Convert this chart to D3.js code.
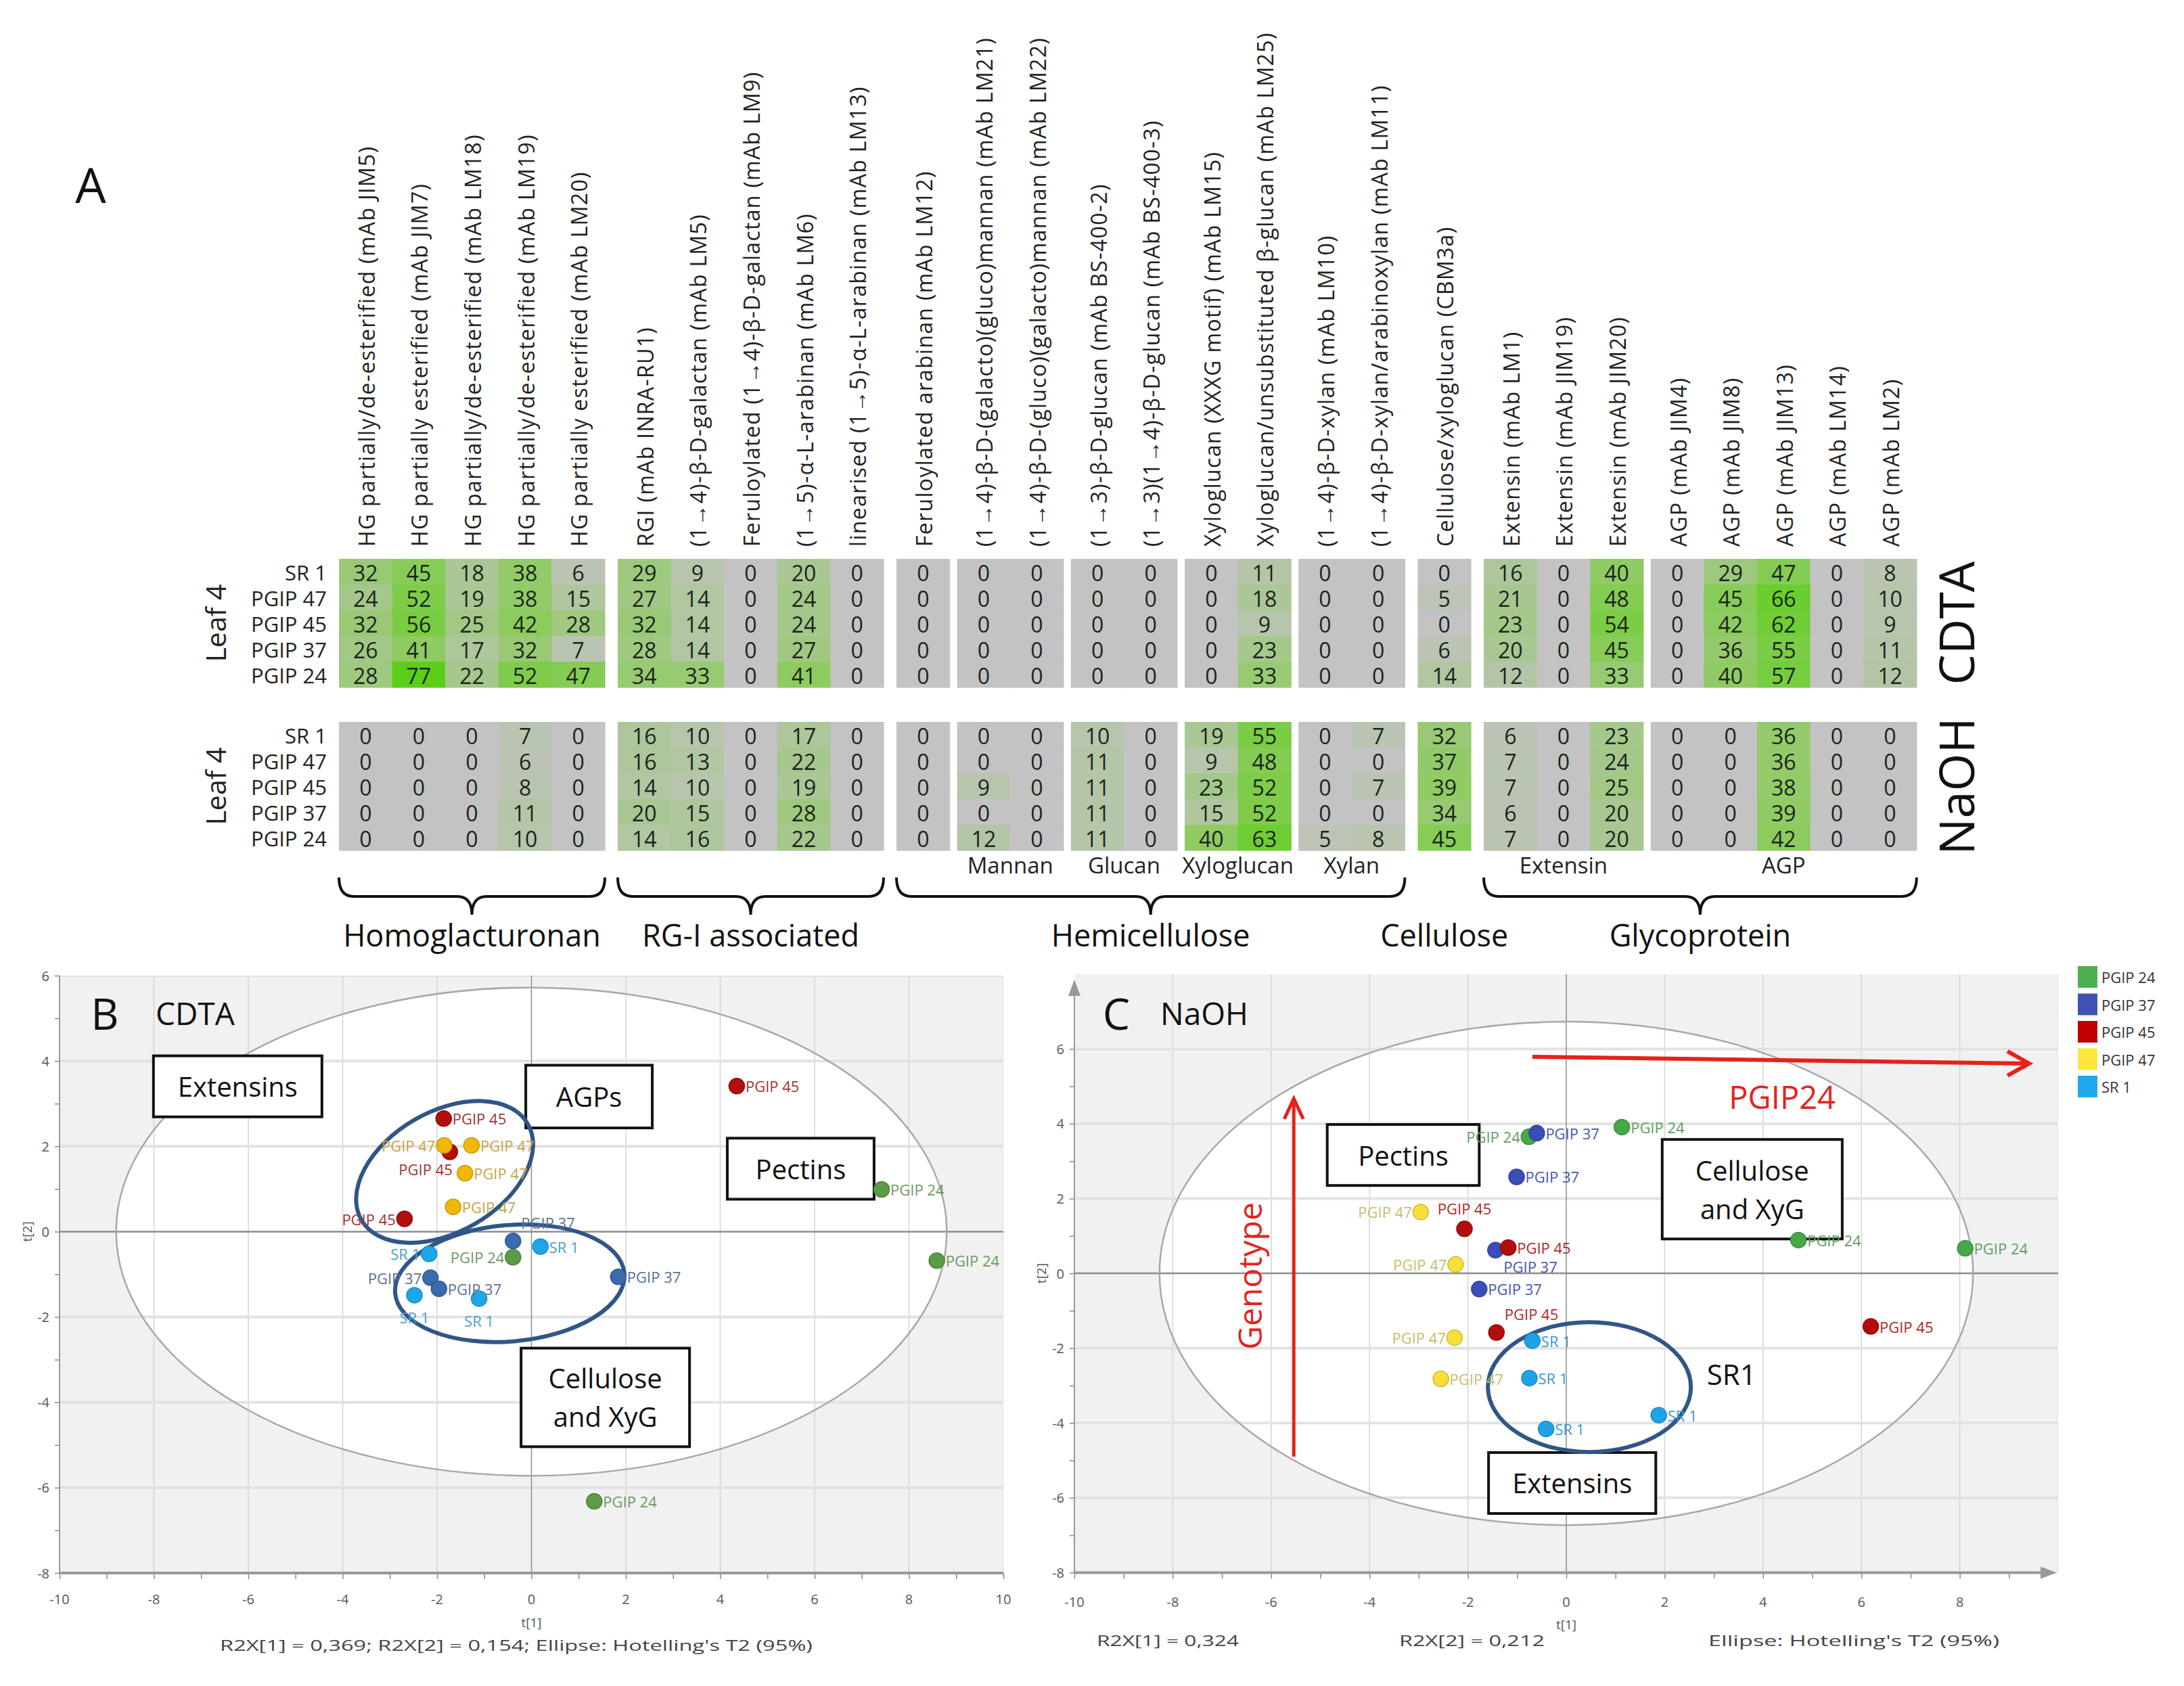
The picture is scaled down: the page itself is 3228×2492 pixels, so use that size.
<!DOCTYPE html>
<html><head><meta charset="utf-8">
<script src="https://cdn.jsdelivr.net/npm/d3@7"></script>
<style>body{margin:0;background:#fff}svg{display:block}text{font-family:'Open Sans',sans-serif}</style>
</head><body><svg id="c" width="3228" height="2492"></svg>
<script>
// ---------------- DATA ----------------
const columnLabels = [
 "HG partially/de-esterified (mAb JIM5)","HG partially esterified (mAb JIM7)","HG partially/de-esterified (mAb LM18)","HG partially/de-esterified (mAb LM19)","HG partially esterified (mAb LM20)",
 "RGI (mAb INRA-RU1)","(1\u21924)-\u03b2-D-galactan (mAb LM5)","Feruloylated (1\u21924)-\u03b2-D-galactan (mAb LM9)","(1\u21925)-\u03b1-L-arabinan (mAb LM6)","linearised (1\u21925)-\u03b1-L-arabinan (mAb LM13)",
 "Feruloylated arabinan (mAb LM12)",
 "(1\u21924)-\u03b2-D-(galacto)(gluco)mannan (mAb LM21)","(1\u21924)-\u03b2-D-(gluco)(galacto)mannan (mAb LM22)",
 "(1\u21923)-\u03b2-D-glucan (mAb BS-400-2)","(1\u21923)(1\u21924)-\u03b2-D-glucan (mAb BS-400-3)",
 "Xyloglucan (XXXG motif) (mAb LM15)","Xyloglucan/unsubstituted \u03b2-glucan (mAb LM25)",
 "(1\u21924)-\u03b2-D-xylan (mAb LM10)","(1\u21924)-\u03b2-D-xylan/arabinoxylan (mAb LM11)",
 "Cellulose/xyloglucan (CBM3a)",
 "Extensin (mAb LM1)","Extensin (mAb JIM19)","Extensin (mAb JIM20)",
 "AGP (mAb JIM4)","AGP (mAb JIM8)","AGP (mAb JIM13)","AGP (mAb LM14)","AGP (mAb LM2)"];
const groupSizes = [5,5,1,2,2,2,2,1,3,5];
const groupClass = ["Homoglacturonan","RG-I associated","Hemicellulose","Hemicellulose","Hemicellulose","Hemicellulose","Hemicellulose","Cellulose","Glycoprotein","Glycoprotein"];
const subGroupLabels = ["","","","Mannan","Glucan","Xyloglucan","Xylan","","Extensin","AGP"];
const classLabels = ["Homoglacturonan","RG-I associated","Hemicellulose","Cellulose","Glycoprotein"];
const classBrace = [true,true,true,false,true];
const genotypes = ["SR 1","PGIP 47","PGIP 45","PGIP 37","PGIP 24"];
const fractions = ["CDTA","NaOH"];
const cdtaValues = [
 [32,45,18,38,6, 29,9,0,20,0, 0, 0,0, 0,0, 0,11, 0,0, 0, 16,0,40, 0,29,47,0,8],
 [24,52,19,38,15, 27,14,0,24,0, 0, 0,0, 0,0, 0,18, 0,0, 5, 21,0,48, 0,45,66,0,10],
 [32,56,25,42,28, 32,14,0,24,0, 0, 0,0, 0,0, 0,9, 0,0, 0, 23,0,54, 0,42,62,0,9],
 [26,41,17,32,7, 28,14,0,27,0, 0, 0,0, 0,0, 0,23, 0,0, 6, 20,0,45, 0,36,55,0,11],
 [28,77,22,52,47, 34,33,0,41,0, 0, 0,0, 0,0, 0,33, 0,0, 14, 12,0,33, 0,40,57,0,12]];
const naohValues = [
 [0,0,0,7,0, 16,10,0,17,0, 0, 0,0, 10,0, 19,55, 0,7, 32, 6,0,23, 0,0,36,0,0],
 [0,0,0,6,0, 16,13,0,22,0, 0, 0,0, 11,0, 9,48, 0,0, 37, 7,0,24, 0,0,36,0,0],
 [0,0,0,8,0, 14,10,0,19,0, 0, 9,0, 11,0, 23,52, 0,7, 39, 7,0,25, 0,0,38,0,0],
 [0,0,0,11,0, 20,15,0,28,0, 0, 0,0, 11,0, 15,52, 0,0, 34, 6,0,20, 0,0,39,0,0],
 [0,0,0,10,0, 14,16,0,22,0, 0, 12,0, 11,0, 40,63, 5,8, 45, 7,0,20, 0,0,42,0,0]];

// PCA scores, CDTA (panel B)
const cdtaGeno = ["PGIP 45","PGIP 45","PGIP 45","PGIP 45","PGIP 47","PGIP 47","PGIP 47","PGIP 47","PGIP 37","PGIP 37","PGIP 37","PGIP 37","SR 1","SR 1","SR 1","SR 1","PGIP 24","PGIP 24","PGIP 24","PGIP 24"];
const cdtaT1 = [4.35,-1.86,-1.73,-2.69, -1.85,-1.27,-1.41,-1.66, -0.39,1.84,-2.14,-1.96, 0.19,-2.17,-2.48,-1.11, -0.39,7.42,8.59,1.33];
const cdtaT2 = [3.41,2.65,1.87,0.30, 2.02,2.02,1.37,0.58, -0.22,-1.06,-1.08,-1.34, -0.35,-0.52,-1.49,-1.57, -0.60,0.99,-0.68,-6.32];
const cdtaLabelSide = ["r","r","bl","l", "l","r","r","r", "ar","r","l","r", "r","l","b","b", "l","r","r","r"];
// PCA scores, NaOH (panel C)
const naohGeno = ["PGIP 24","PGIP 24","PGIP 24","PGIP 24","PGIP 37","PGIP 37","PGIP 37","PGIP 37","PGIP 45","PGIP 45","PGIP 45","PGIP 45","PGIP 47","PGIP 47","PGIP 47","PGIP 47","SR 1","SR 1","SR 1","SR 1"];
const naohT1 = [-0.76,1.13,4.72,8.11, -0.60,-1.01,-1.44,-1.77, -2.07,-1.18,-1.42,6.19, -2.96,-2.25,-2.27,-2.55, -0.69,-0.75,1.88,-0.41];
const naohT2 = [3.65,3.91,0.89,0.67, 3.75,2.58,0.62,-0.42, 1.19,0.69,-1.58,-1.42, 1.64,0.24,-1.72,-2.82, -1.80,-2.80,-3.79,-4.16];
const naohLabelSide = ["l","r","r","r", "r","r","br","r", "a","r","ar","r", "l","l","l","r", "r","r","r","r"];
const legendOrder = ["PGIP 24","PGIP 37","PGIP 45","PGIP 47","SR 1"];
const xTickValues = [-10,-8,-6,-4,-2,0,2,4,6,8,10];
const yTickValues = [-8,-6,-4,-2,0,2,4,6];

// ---------------- DRAW ----------------
const svg = d3.select("#c");
svg.append("rect").attr("width",3228).attr("height",2492).attr("fill","#fff");

// ---- Heatmap (panel A) ----
const cw = 78.6, gapMajor = 19, gapMinor = 11, x0 = 501;
const colLeft = []; const groupStart = []; const groupEnd = [];
{ let x = x0;
  groupSizes.forEach((n,g)=>{
    if(g>0) x += (groupClass[g]!==groupClass[g-1]) ? gapMajor : gapMinor;
    groupStart.push(x);
    for(let k=0;k<n;k++){ colLeft.push(x); x += cw; }
    groupEnd.push(x);
  });
}
const xCol = d3.scaleOrdinal(d3.range(columnLabels.length), colLeft);
const heat = d3.scaleLinear().domain([0,40,77]).range(["#c3c3c3","#8fcb62","#5bcf18"]);
const blocks = [
  {name:"CDTA", values:cdtaValues, y:d3.scaleBand(genotypes,[826,1016])},
  {name:"NaOH", values:naohValues, y:d3.scaleBand(genotypes,[1067,1257])}];
const A = svg.append("g");
A.append("text").attr("x",134).attr("y",272).attr("text-anchor","middle").attr("dominant-baseline","central")
 .attr("font-size",72).attr("fill","#111").text("A");
A.selectAll("text.col").data(columnLabels).join("text").attr("class","col")
 .attr("transform",(d,i)=>`translate(${xCol(i)+cw/2+1},808) rotate(-90)`)
 .attr("dominant-baseline","central").attr("font-size",32).attr("letter-spacing",1.3).attr("fill","#222").text(d=>d);
blocks.forEach(b=>{
  const g = A.append("g");
  b.values.forEach((row,ri)=>{
    g.selectAll(null).data(row).join("rect")
     .attr("x",(d,i)=>xCol(i)).attr("y",b.y(genotypes[ri])).attr("width",cw+0.6).attr("height",b.y.bandwidth()+0.6)
     .attr("fill",d=>heat(d));
    g.selectAll(null).data(row).join("text")
     .attr("x",(d,i)=>xCol(i)+cw/2).attr("y",b.y(genotypes[ri])+b.y.bandwidth()/2+1)
     .attr("text-anchor","middle").attr("dominant-baseline","central").attr("font-size",32).attr("fill","#1b251b").text(d=>d);
  });
  g.selectAll(null).data(genotypes).join("text")
   .attr("x",483).attr("y",d=>b.y(d)+b.y.bandwidth()/2+1).attr("text-anchor","end").attr("dominant-baseline","central")
   .attr("font-size",31).attr("fill","#222").text(d=>d);
  const cy = (b.y.range()[0]+b.y.range()[1])/2;
  g.append("text").attr("transform",`translate(318,${cy}) rotate(-90)`).attr("text-anchor","middle").attr("dominant-baseline","central")
   .attr("font-size",41).attr("fill","#222").text("Leaf 4");
  g.append("text").attr("transform",`translate(2890,${cy}) rotate(-90)`).attr("text-anchor","middle").attr("dominant-baseline","central")
   .attr("font-size",72).attr("fill","#111").text(b.name);
});
// sub-group labels
subGroupLabels.forEach((s,g)=>{ if(!s) return;
  A.append("text").attr("x",(groupStart[g]+groupEnd[g])/2).attr("y",1278).attr("text-anchor","middle").attr("dominant-baseline","central")
   .attr("font-size",33).attr("fill","#222").text(s); });
// braces & class labels
classLabels.forEach((c,ci)=>{
  const gs = groupClass.map((gc,i)=>gc===c?i:-1).filter(i=>i>=0);
  const x1 = groupStart[gs[0]], x2 = groupEnd[gs[gs.length-1]], xm = (x1+x2)/2;
  const y0=1297,y1=1325,y2=1352,r=22;
  if(classBrace[ci]){
    A.append("path").attr("d",`M${x1},${y0} Q${x1},${y1} ${x1+r},${y1} L${xm-r},${y1} Q${xm},${y1} ${xm},${y2} Q${xm},${y1} ${xm+r},${y1} L${x2-r},${y1} Q${x2},${y1} ${x2},${y0}`)
     .attr("fill","none").attr("stroke","#111").attr("stroke-width",4);
  }
  A.append("text").attr("x",xm).attr("y",1381).attr("text-anchor","middle").attr("dominant-baseline","central")
   .attr("font-size",45).attr("fill","#111").text(c);
});

// ---- Scatter panels ----
function drawPanel(cfg){
  const {x,y,t1,t2,geno,side,colors,labelColors} = cfg;
  const g = svg.append("g");
  const [xl,xr] = [x(-10), cfg.right];
  const [yb,yt] = [y(-8), cfg.top];
  const clipId = "clip"+cfg.id;
  g.append("clipPath").attr("id",clipId).append("rect").attr("x",xl).attr("y",yt).attr("width",xr-xl).attr("height",yb-yt);
  const pg = g.append("g").attr("clip-path",`url(#${clipId})`);
  pg.append("rect").attr("x",xl).attr("y",yt).attr("width",xr-xl).attr("height",yb-yt).attr("fill","#f1f1f1");
  pg.append("ellipse").attr("cx",x(0)).attr("cy",y(0)).attr("rx",x(cfg.hx)-x(0)).attr("ry",y(0)-y(cfg.hy)).attr("fill","#fff");
  // grid
  pg.selectAll(null).data(xTickValues.filter(v=>v>-10&&v!==0)).join("line")
    .attr("x1",d=>x(d)).attr("x2",d=>x(d)).attr("y1",yt).attr("y2",yb).attr("stroke","#d4d4d4").attr("stroke-width",1.5);
  pg.selectAll(null).data(yTickValues.filter(v=>v>-8&&v!==0)).join("line")
    .attr("y1",d=>y(d)).attr("y2",d=>y(d)).attr("x1",xl).attr("x2",xr).attr("stroke","#e2e2e2").attr("stroke-width",4);
  pg.append("line").attr("x1",x(0)).attr("x2",x(0)).attr("y1",yt).attr("y2",yb).attr("stroke","#8c8c8c").attr("stroke-width",1.5);
  pg.append("line").attr("x1",xl).attr("x2",xr).attr("y1",y(0)).attr("y2",y(0)).attr("stroke","#8c8c8c").attr("stroke-width",2.5);
  pg.append("ellipse").attr("cx",x(0)).attr("cy",y(0)).attr("rx",x(cfg.hx)-x(0)).attr("ry",y(0)-y(cfg.hy))
    .attr("fill","none").attr("stroke","#a8a8a8").attr("stroke-width",2.5);
  // axes
  const ax = g.append("g").attr("transform",`translate(0,${yb})`)
    .call(d3.axisBottom(x).tickValues(d3.range(-10,cfg.xMaxTick+1,1)).tickSize(9).tickFormat(""));
  ax.select(".domain").remove();
  ax.selectAll("line").attr("stroke","#888").attr("stroke-width",1.5);
  g.append("line").attr("x1",xl).attr("x2",cfg.xAxisEnd).attr("y1",yb).attr("y2",yb).attr("stroke","#999").attr("stroke-width",4);
  g.selectAll(null).data(xTickValues.filter(v=>v<=cfg.xMaxTick)).join("text")
    .attr("x",d=>x(d)).attr("y",cfg.xLabY).attr("text-anchor","middle").attr("dominant-baseline","central")
    .attr("font-size",20).attr("fill","#555").text(d=>d);
  const ay = g.append("g").attr("transform",`translate(${xl},0)`)
    .call(d3.axisLeft(y).tickValues(d3.range(-8,7,1)).tickSize(7).tickFormat(""));
  ay.select(".domain").remove();
  ay.selectAll("line").attr("stroke","#888").attr("stroke-width",1.5);
  g.append("line").attr("x1",xl).attr("x2",xl).attr("y1",yb).attr("y2",cfg.yAxisEnd).attr("stroke","#999").attr("stroke-width",2);
  g.selectAll(null).data(yTickValues).join("text")
    .attr("x",xl-15).attr("y",d=>y(d)).attr("text-anchor","end").attr("dominant-baseline","central")
    .attr("font-size",20).attr("fill","#555").text(d=>d);
  if(cfg.arrows){
    g.append("path").attr("d",`M${xl-9},${cfg.yAxisEnd+2} L${xl},${cfg.yAxisEnd-22} L${xl+9},${cfg.yAxisEnd+2}Z`).attr("fill","#999");
    g.append("path").attr("d",`M${cfg.xAxisEnd-2},${yb-9} L${cfg.xAxisEnd+22},${yb} L${cfg.xAxisEnd-2},${yb+9}Z`).attr("fill","#999");
  }
  g.append("text").attr("x",x(0)).attr("y",cfg.t1LabY).attr("text-anchor","middle").attr("dominant-baseline","central")
    .attr("font-size",19).attr("fill","#555").text("t[1]");
  g.append("text").attr("transform",`translate(${cfg.t2LabX},${y(0)}) rotate(-90)`).attr("text-anchor","middle").attr("dominant-baseline","central")
    .attr("font-size",19).attr("fill","#555").text("t[2]");
  cfg.footer.forEach(f=>{
    g.append("text").attr("x",f.x).attr("y",f.y).attr("text-anchor",f.anchor).attr("dominant-baseline","central")
     .attr("font-family","'Liberation Mono',monospace").attr("font-size",21).attr("fill","#444")
     .attr("textLength",f.len).attr("lengthAdjust","spacingAndGlyphs").text(f.text);
  });
  // panel letter and title
  g.append("text").attr("x",cfg.letter[0]).attr("y",cfg.letter[1]).attr("text-anchor","middle").attr("dominant-baseline","central")
    .attr("font-size",64).attr("fill","#111").text(cfg.letterText);
  g.append("text").attr("x",cfg.title[0]).attr("y",cfg.title[1]).attr("dominant-baseline","central")
    .attr("font-size",46).attr("fill","#111").text(cfg.titleText);
  if(cfg.before) cfg.before(g);
  // annotation boxes
  cfg.boxes.forEach(b=>{
    const bx = x(b.t1[0]), by = y(b.t2[0]), bw = x(b.t1[1])-bx, bh = y(b.t2[1])-by;
    g.append("rect").attr("x",bx).attr("y",by).attr("width",bw).attr("height",bh).attr("fill","#fff").attr("stroke","#111").attr("stroke-width",4);
    const lines = b.text.split("\n");
    lines.forEach((ln,li)=>{
      g.append("text").attr("x",bx+bw/2).attr("y",by+bh/2+(li-(lines.length-1)/2)*57).attr("text-anchor","middle")
       .attr("dominant-baseline","central").attr("font-size",40).attr("fill","#111").text(ln);
    });
  });
  // blue annotation ellipses
  cfg.rings.forEach(r=>{
    g.append("ellipse").attr("transform",`translate(${x(r.t1)},${y(r.t2)}) rotate(${r.rot})`).attr("rx",r.rx).attr("ry",r.ry)
     .attr("fill","none").attr("stroke","#305686").attr("stroke-width",6);
  });
  // points
  const idx = d3.range(t1.length);
  g.selectAll(null).data(idx).join("circle").attr("cx",i=>x(t1[i])).attr("cy",i=>y(t2[i])).attr("r",11.5)
    .attr("fill",i=>colors[geno[i]]).attr("stroke",i=>d3.color(colors[geno[i]]).darker(0.5)).attr("stroke-width",1.5);
  g.selectAll(null).data(idx).join("text").each(function(i){
    const px = x(t1[i]), py = y(t2[i]); let lx=px+13, ly=py, an="start";
    const s = side[i];
    if(s==="l"){lx=px-13; an="end";}
    else if(s==="b"){lx=px; ly=py+33; an="middle";}
    else if(s==="a"){lx=px; ly=py-30; an="middle";}
    else if(s==="ar"){lx=px+12; ly=py-27; an="start";}
    else if(s==="bl"){lx=px+4; ly=py+26; an="end";}
    else if(s==="br"){lx=px+12; ly=py+24; an="start";}
    d3.select(this).attr("x",lx).attr("y",ly).attr("text-anchor",an).attr("dominant-baseline","central")
      .attr("font-size",22).attr("fill",labelColors[geno[i]]).text(geno[i]);
  });
  if(cfg.after) cfg.after(g);
}

// Panel B
const xB = d3.scaleLinear([-10,10],[88,1483]);
const yB = d3.scaleLinear([-8,6],[2325,1442]);
drawPanel({
  id:"B", x:xB, y:yB, t1:cdtaT1, t2:cdtaT2, geno:cdtaGeno, side:cdtaLabelSide,
  right:1483, top:1442, hx:8.8, hy:5.72, xMaxTick:10, xAxisEnd:1483, yAxisEnd:1442, arrows:false,
  xLabY:2363, t1LabY:2398, t2LabX:40,
  footer:[{x:763,y:2432,anchor:"middle",len:876,text:"R2X[1] = 0,369; R2X[2] = 0,154; Ellipse: Hotelling's T2 (95%)"}],
  letter:[155,1497], letterText:"B", title:[230,1497], titleText:"CDTA",
  colors:{"PGIP 24":"#5c9b48","PGIP 37":"#3c6aae","PGIP 45":"#b30d0d","PGIP 47":"#f2b705","SR 1":"#1ea6ea"},
  labelColors:{"PGIP 24":"#6d9963","PGIP 37":"#5a6f95","PGIP 45":"#a33333","PGIP 47":"#c7a446","SR 1":"#4a9ed0"},
  boxes:[{text:"Extensins",t1:[-8.01,-4.44],t2:[4.12,2.69]},
         {text:"AGPs",t1:[-0.12,2.56],t2:[3.9,2.43]},
         {text:"Pectins",t1:[4.15,7.26],t2:[2.19,0.76]},
         {text:"Cellulose\nand XyG",t1:[-0.22,3.35],t2:[-2.73,-5.04]}],
  rings:[{t1:-1.84,t2:1.40,rx:142,ry:89,rot:-30},{t1:-0.46,t2:-1.21,rx:170,ry:86,rot:-5}]
});

// Panel C
const xC = d3.scaleLinear([-10,10],[1588,3042]);
const yC = d3.scaleLinear([-8,6],[2324.4,1550.4]);
drawPanel({
  id:"C", x:xC, y:yC, t1:naohT1, t2:naohT2, geno:naohGeno, side:naohLabelSide,
  right:3042, top:1440, hx:8.27, hy:6.73, xMaxTick:9, xAxisEnd:3018, yAxisEnd:1470, arrows:true,
  xLabY:2367, t1LabY:2401, t2LabX:1539,
  footer:[{x:1621,y:2425,anchor:"start",len:210,text:"R2X[1] = 0,324"},
          {x:2068,y:2425,anchor:"start",len:215,text:"R2X[2] = 0,212"},
          {x:2525,y:2425,anchor:"start",len:430,text:"Ellipse: Hotelling's T2 (95%)"}],
  letter:[1650,1497], letterText:"C", title:[1715,1497], titleText:"NaOH",
  colors:{"PGIP 24":"#47a84a","PGIP 37":"#3a4db8","PGIP 45":"#b30c0c","PGIP 47":"#f8df3a","SR 1":"#1ea3e6"},
  labelColors:{"PGIP 24":"#5f9f63","PGIP 37":"#4656ad","PGIP 45":"#ae2828","PGIP 47":"#c6be6e","SR 1":"#3896d6"},
  boxes:[{text:"Pectins",t1:[-4.86,-1.77],t2:[3.98,2.35]},
         {text:"Cellulose\nand XyG",t1:[1.95,5.61],t2:[3.58,0.92]},
         {text:"Extensins",t1:[-1.58,1.82],t2:[-4.79,-6.42]}],
  rings:[{t1:0.47,t2:-3.04,rx:150,ry:96,rot:0}],
  before:(g)=>{
    const red="#e4231c";
    g.append("line").attr("x1",xC(-0.69)).attr("y1",yC(5.79)).attr("x2",xC(9.41)).attr("y2",yC(5.61)).attr("stroke",red).attr("stroke-width",6);
    g.append("polyline").attr("points",`${xC(9.41)-32},${yC(5.61)-18} ${xC(9.41)},${yC(5.61)} ${xC(9.41)-32},${yC(5.61)+18}`)
      .attr("fill","none").attr("stroke",red).attr("stroke-width",6);
    g.append("line").attr("x1",xC(-5.54)).attr("y1",yC(-4.9)).attr("x2",xC(-5.54)).attr("y2",yC(4.67)).attr("stroke",red).attr("stroke-width",5);
    g.append("polyline").attr("points",`${xC(-5.54)-14},${yC(4.67)+30} ${xC(-5.54)},${yC(4.67)} ${xC(-5.54)+14},${yC(4.67)+30}`)
      .attr("fill","none").attr("stroke",red).attr("stroke-width",5);
    g.append("text").attr("x",xC(4.39)).attr("y",yC(4.72)).attr("text-anchor","middle").attr("dominant-baseline","central")
      .attr("font-size",47).attr("fill",red).text("PGIP24");
    g.append("text").attr("transform",`translate(${xC(-6.45)},${yC(-0.07)}) rotate(-90)`).attr("text-anchor","middle").attr("dominant-baseline","central")
      .attr("font-size",48).attr("fill",red).text("Genotype");
    g.append("text").attr("x",xC(3.36)).attr("y",yC(-2.68)).attr("text-anchor","middle").attr("dominant-baseline","central")
      .attr("font-size",42).attr("fill","#111").text("SR1");
  },
  after:(g)=>{
    const cols = {"PGIP 24":"#4cb050","PGIP 37":"#3f51b5","PGIP 45":"#c00000","PGIP 47":"#ffe63c","SR 1":"#1fa8f0"};
    const ly = d3.scalePoint(legendOrder,[1444,1606]);
    g.selectAll(null).data(legendOrder).join("rect").attr("x",3071).attr("y",d=>ly(d)-16).attr("width",29).attr("height",32).attr("fill",d=>cols[d]);
    g.selectAll(null).data(legendOrder).join("text").attr("x",3106).attr("y",d=>ly(d)).attr("dominant-baseline","central")
      .attr("font-size",22).attr("fill","#333").text(d=>d);
  }
});
</script></body></html>
